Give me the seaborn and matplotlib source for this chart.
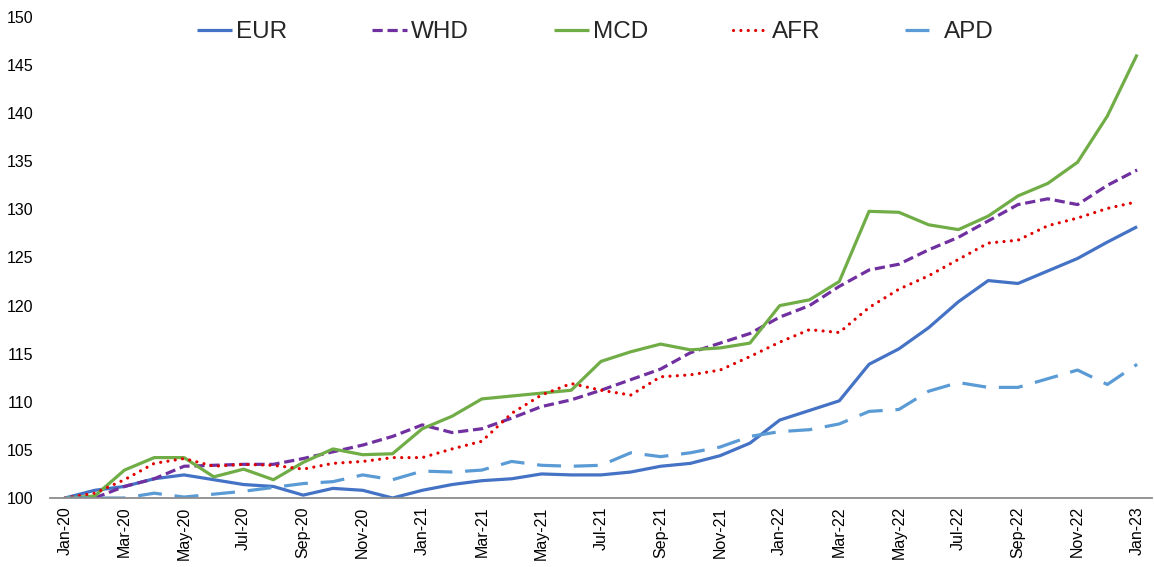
import numpy as np
import pandas as pd
import matplotlib
matplotlib.use("Agg")
import matplotlib.pyplot as plt
import seaborn as sns

# Monthly index values (Jan-2020 = 100), Jan-20 .. Jan-23
months = list(pd.date_range("2020-01-01", periods=37, freq="MS").strftime("%b-%y"))

eur = [100.0, 100.8, 101.2, 102.0, 102.4, 101.9, 101.4, 101.2, 100.3, 101.0, 100.8, 100.0,
       100.8, 101.4, 101.8, 102.0, 102.5, 102.4, 102.4, 102.7, 103.3, 103.6, 104.4, 105.7,
       108.1, 109.1, 110.1, 113.9, 115.5, 117.7, 120.4, 122.6, 122.3, 123.6, 124.9, 126.6,
       128.2]
whd = [100.0, 100.0, 101.2, 102.0, 103.3, 103.4, 103.5, 103.5, 104.1, 104.8, 105.5, 106.4,
       107.6, 106.8, 107.2, 108.3, 109.5, 110.2, 111.2, 112.3, 113.4, 115.1, 116.1, 117.1,
       118.8, 120.0, 122.0, 123.7, 124.3, 125.8, 127.1, 128.8, 130.5, 131.1, 130.5, 132.5,
       134.1]
mcd = [100.0, 100.2, 102.9, 104.2, 104.2, 102.2, 103.0, 101.9, 103.7, 105.1, 104.5, 104.6,
       107.2, 108.5, 110.3, 110.6, 110.9, 111.2, 114.2, 115.2, 116.0, 115.4, 115.6, 116.1,
       120.0, 120.6, 122.5, 129.8, 129.7, 128.4, 127.9, 129.3, 131.4, 132.7, 134.9, 139.7,
       146.1]
afr = [100.0, 100.5, 101.9, 103.6, 104.1, 103.3, 103.5, 103.4, 103.0, 103.6, 103.8, 104.2,
       104.2, 105.1, 105.9, 108.8, 110.7, 111.9, 111.2, 110.7, 112.6, 112.8, 113.3, 114.7,
       116.2, 117.5, 117.2, 119.8, 121.7, 123.1, 124.8, 126.5, 126.8, 128.3, 129.1, 130.1,
       130.8]
apd = [100.0, 100.0, 100.0, 100.5, 100.1, 100.4, 100.7, 101.1, 101.5, 101.7, 102.4, 101.9,
       102.8, 102.7, 102.9, 103.8, 103.4, 103.3, 103.4, 104.7, 104.3, 104.7, 105.3, 106.4,
       106.9, 107.1, 107.7, 109.0, 109.2, 111.1, 112.0, 111.5, 111.5, 112.4, 113.3, 111.8,
       113.9]

series_names = ["EUR", "WHD", "MCD", "AFR", "APD"]
series_values = [eur, whd, mcd, afr, apd]
colors = ["#4472C4", "#7030A0", "#70AD47", "#E00000", "#5B9BD5"]
# dash pattern (in linewidth units) and cap style for each series
styles = [
    (None, "butt"),
    ((3.2, 1.5), "butt"),
    (None, "butt"),
    ((0.01, 2.3), "round"),
    ((7.5, 4.0), "butt"),
]

sns.set_theme(style="white")
plt.rcParams["font.family"] = ["Liberation Sans", "DejaVu Sans"]

fig = plt.figure(figsize=(11.54, 5.67), dpi=100)
ax = fig.add_axes([50 / 1154, 1 - 498 / 567, 1102 / 1154, 481 / 567])

x = np.arange(len(months))
for name, vals, col, (dash, cap) in zip(series_names, series_values, colors, styles):
    sns.lineplot(x=x, y=vals, ax=ax, color=col, linewidth=2.3, label=name,
                 estimator=None, sort=False)
    line = ax.lines[-1]
    if dash is not None:
        line.set_dashes(dash)
    line.set_dash_capstyle(cap)
    line.set_solid_capstyle("butt")

ax.set_xlim(-0.5, 36.5)
ax.set_ylim(100, 150)
ax.set_yticks(np.arange(100, 151, 5))
ax.set_xticks(x[::2])
ax.set_xticklabels(months[::2], rotation=90)
ax.tick_params(axis="both", length=0, labelsize=11.5, colors="#000000")
ax.tick_params(axis="x", pad=6)
ax.tick_params(axis="y", pad=12)
ax.set_xlabel("")
ax.set_ylabel("")

for side in ["top", "right", "left"]:
    ax.spines[side].set_visible(False)
ax.spines["bottom"].set_color("#8c8c8c")
ax.spines["bottom"].set_linewidth(1.3)
ax.grid(False)

leg = ax.legend(loc="center", bbox_to_anchor=(0.495, 1 - 15 / 481), ncol=5,
                frameon=False, fontsize=17.5, handlelength=1.45, handletextpad=0.15,
                columnspacing=3.5, borderaxespad=0)

fig.savefig("out.png", dpi=100)
